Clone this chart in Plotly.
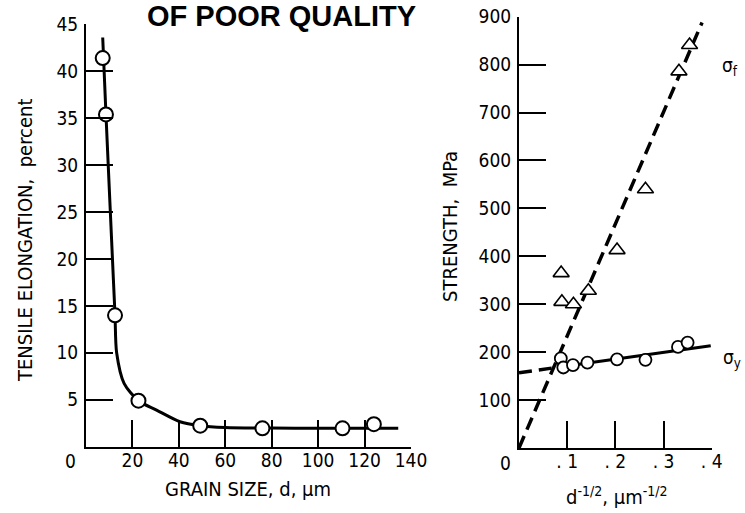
import plotly.graph_objects as go

# ---------------- data ----------------
# Left panel: tensile elongation vs grain size
grain_size = [7.2, 8.6, 12.5, 22.6, 49.2, 76.0, 110.5, 124.0]
elongation = [41.4, 35.4, 14.0, 4.9, 2.24, 1.96, 1.96, 2.4]
curve_x = [7.2, 8.6, 11.4, 12.5, 13.2, 16.4, 22.6, 30.4, 40.5, 49.2, 60, 80, 100, 120, 134.5]
curve_y = [43.6, 35.4, 20.0, 14.0, 10.0, 6.75, 4.9, 3.9, 2.66, 2.24, 2.05, 1.98, 1.97, 1.96, 1.96]

# Right panel: strength vs d^-1/2
sf_x = [0.354, 0.332, 0.2625, 0.2035, 0.0875, 0.089, 0.113, 0.144]
sf_y = [841, 786, 540, 413, 365, 305, 300, 328]
sy_x = [0.0868, 0.092, 0.112, 0.142, 0.2035, 0.2625, 0.33, 0.35]
sy_y = [187, 168, 173, 178, 185, 184, 211, 220]
sf_fit_x = [0.0, 0.38]
sf_fit_y = [0, 888]
sy_ext_x = [0.0, 0.08]
sy_ext_y = [157, 168.4]
sy_fit_x = [0.08, 0.398]
sy_fit_y = [168.4, 213.6]

left_yticks = [5, 10, 15, 20, 25, 30, 35, 40, 45]
left_xticks = [20, 40, 60, 80, 100, 120, 140]
right_yticks = [100, 200, 300, 400, 500, 600, 700, 800, 900]
right_xticks = [0.1, 0.2, 0.3, 0.4]
right_xticktext = [". 1", ". 2", ". 3", ". 4"]

FONT = "Liberation Sans Narrow, DejaVu Sans Condensed, Roboto Condensed, Arial Narrow, sans-serif"
W, H = 745, 513

fig = go.Figure()

fig.add_trace(go.Scatter(x=curve_x, y=curve_y, mode="lines", line=dict(color="black", width=3, shape="spline", smoothing=0.8),
                         xaxis="x", yaxis="y", showlegend=False, hoverinfo="skip"))
fig.add_trace(go.Scatter(x=grain_size, y=elongation, mode="markers",
                         marker=dict(symbol="circle", size=14, color="white", line=dict(color="black", width=2)),
                         xaxis="x", yaxis="y", showlegend=False, cliponaxis=False))

fig.add_trace(go.Scatter(x=sf_fit_x, y=sf_fit_y, mode="lines", line=dict(color="black", width=3.5, dash="13px,7px"),
                         xaxis="x2", yaxis="y2", showlegend=False))
fig.add_trace(go.Scatter(x=sy_ext_x, y=sy_ext_y, mode="lines", line=dict(color="black", width=3.5, dash="13px,7px"),
                         xaxis="x2", yaxis="y2", showlegend=False))
fig.add_trace(go.Scatter(x=sy_fit_x, y=sy_fit_y, mode="lines", line=dict(color="black", width=3),
                         xaxis="x2", yaxis="y2", showlegend=False))
fig.add_trace(go.Scatter(x=sf_x, y=sf_y, mode="markers",
                         marker=dict(symbol="triangle-up", size=14, color="white", line=dict(color="black", width=1.6)),
                         xaxis="x2", yaxis="y2", showlegend=False, cliponaxis=False))
fig.add_trace(go.Scatter(x=sy_x, y=sy_y, mode="markers",
                         marker=dict(symbol="circle", size=12, color="white", line=dict(color="black", width=1.8)),
                         xaxis="x2", yaxis="y2", showlegend=False, cliponaxis=False))

def px_x(p):
    return p / W

def px_y(p):
    return 1 - p / H

axis_common = dict(showline=True, linecolor="black", linewidth=2, ticks="inside", ticklen=27, tickwidth=2,
                   automargin=False,
                   tickcolor="black", showgrid=False, zeroline=False, tickfont=dict(family=FONT, size=19, color="black"))

fig.update_layout(
    width=W, height=H, margin=dict(l=0, r=0, t=0, b=0, pad=0, autoexpand=False),
    paper_bgcolor="white", plot_bgcolor="white",
    font=dict(family=FONT, color="black"),
    xaxis=dict(domain=[px_x(86), px_x(411)], range=[0, 140], tickvals=left_xticks, anchor="y",
               ticklabelstandoff=-5, **axis_common),
    yaxis=dict(domain=[px_y(446.7), px_y(24.3)], range=[0, 45], tickvals=left_yticks, anchor="x",
               ticklabelstandoff=2, **axis_common),
    xaxis2=dict(domain=[px_x(519), px_x(711.7)], range=[0, 0.4], tickvals=right_xticks, ticktext=right_xticktext,
                anchor="y2", ticklabelstandoff=-5, **axis_common),
    yaxis2=dict(domain=[px_y(448), px_y(16.7)], range=[0, 900], tickvals=right_yticks, anchor="x2",
                ticklabelstandoff=2, **axis_common),
)

ann = []
def A(text, x, y, size=20, angle=0, **kw):
    ann.append(dict(text=text, x=px_x(x), y=px_y(y), xref="paper", yref="paper", showarrow=False,
                    textangle=angle, font=dict(family=kw.pop("family", FONT), size=size, color="black"),
                    xanchor="center", yanchor="middle", **kw))

A("0", 70, 461, size=19)
A("0", 505, 463, size=19)
A("GRAIN SIZE, d, µm", 248, 489)
A("d<sup>-1/2</sup>, µm<sup>-1/2</sup>", 617, 496)
A("TENSILE ELONGATION,  percent", 25, 240, angle=-90)
A("STRENGTH,  MPa", 450, 227, angle=-90)
A("σ<sub>f</sub>", 730, 66, size=19)
A("σ<sub>y</sub>", 732, 358, size=19)
A("<b>OF POOR QUALITY</b>", 281, 16, size=29, family="Liberation Sans, Arial, sans-serif")
fig.update_layout(annotations=ann)

fig.write_html("out.html")
